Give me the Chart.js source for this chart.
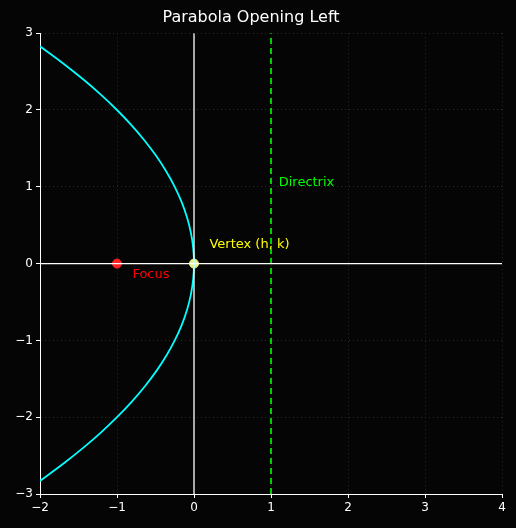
<!DOCTYPE html>
<html><head><script src="https://cdn.jsdelivr.net/npm/chart.js"></script>
<style>html,body{margin:0;background:#050505;}canvas{display:block}</style></head>
<body><canvas id="c" width="516" height="528"></canvas>
<script>
const curveY = [2.83,2.6,2.4,2.2,2.0,1.8,1.6,1.4,1.2,1.0,0.8,0.6,0.4,0.2,0,-0.2,-0.4,-0.6,-0.8,-1.0,-1.2,-1.4,-1.6,-1.8,-2.0,-2.2,-2.4,-2.6,-2.83];
const curveX = [-2.0,-1.69,-1.44,-1.21,-1.0,-0.81,-0.64,-0.49,-0.36,-0.25,-0.16,-0.09,-0.04,-0.01,0,-0.01,-0.04,-0.09,-0.16,-0.25,-0.36,-0.49,-0.64,-0.81,-1.0,-1.21,-1.44,-1.69,-2.0];
const focus = {x:-1,y:0};
const vertex = {x:0,y:0};
const directrixX = 1;
const labels = [
 {text:'Directrix',x:1.1,y:1.05,color:'#00ff00'},
 {text:'Vertex (h, k)',x:0.2,y:0.25,color:'#ffff00'},
 {text:'Focus',x:-0.8,y:-0.15,color:'#ff0000'}
];
const xTicks=[-2,-1,0,1,2,3,4], yTicks=[-3,-2,-1,0,1,2,3];
const fmt=v=>v<0?'\u2212'+Math.abs(v):String(v);
const bg={id:'bg',beforeDraw(c){const x=c.ctx;x.fillStyle='#050505';x.fillRect(0,0,c.width,c.height);}};
const txt={id:'txt',afterDatasetsDraw(c){const x=c.ctx,sx=c.scales.x,sy=c.scales.y;x.save();x.font='13px "DejaVu Sans"';x.textBaseline='middle';
 labels.forEach(l=>{x.fillStyle=l.color;x.fillText(l.text,sx.getPixelForValue(l.x),sy.getPixelForValue(l.y));});x.restore();}};
new Chart(document.getElementById('c'),{type:'scatter',
data:{datasets:[
 {data:[{x:-2,y:0},{x:4,y:0}],showLine:true,borderColor:'#ffffff',borderWidth:1.3,pointRadius:0},
 {data:[{x:0,y:-3},{x:0,y:3}],showLine:true,borderColor:'#ffffff',borderWidth:1.3,pointRadius:0},
 {data:[{x:directrixX,y:-3},{x:directrixX,y:3}],showLine:true,borderColor:'#00ff00',borderWidth:1.6,borderDash:[6,4],pointRadius:0},
 {data:curveX.map((v,i)=>({x:v,y:curveY[i]})),showLine:true,borderColor:'#00ffff',borderWidth:1.8,pointRadius:0,tension:0.4},
 {data:[focus],pointRadius:4.5,backgroundColor:'#ff2020',borderColor:'#ff2020'},
 {data:[vertex],pointRadius:4.5,backgroundColor:'#eeee88',borderColor:'#eeee88'}
]},
options:{responsive:false,animation:false,
 layout:{padding:{left:0,right:14,top:2,bottom:0}},
 plugins:{legend:{display:false},tooltip:{enabled:false},
  title:{display:true,text:'Parabola Opening Left',color:'#ffffff',font:{size:16,family:'DejaVu Sans',weight:'normal'},padding:{top:6,bottom:6}}},
 scales:{
  x:{type:'linear',min:-2,max:4,afterBuildTicks:a=>{a.ticks=xTicks.map(v=>({value:v}));},afterFit:a=>{a.height=34;},
   ticks:{color:'#ffffff',font:{size:12,family:'DejaVu Sans'},callback:fmt,maxRotation:0},
   grid:{color:'#2a2a2a',drawTicks:true,tickColor:'#ffffff',tickLength:4},border:{color:'#ffffff',dash:[1,3]}},
  y:{type:'linear',min:-3,max:3,afterBuildTicks:a=>{a.ticks=yTicks.map(v=>({value:v}));},afterFit:a=>{a.width=40;},
   ticks:{color:'#ffffff',font:{size:12,family:'DejaVu Sans'},callback:fmt},
   grid:{color:'#2a2a2a',tickColor:'#ffffff',tickLength:4},border:{color:'#ffffff',dash:[1,3]}}
 }},
plugins:[bg,txt]});
</script></body></html>
